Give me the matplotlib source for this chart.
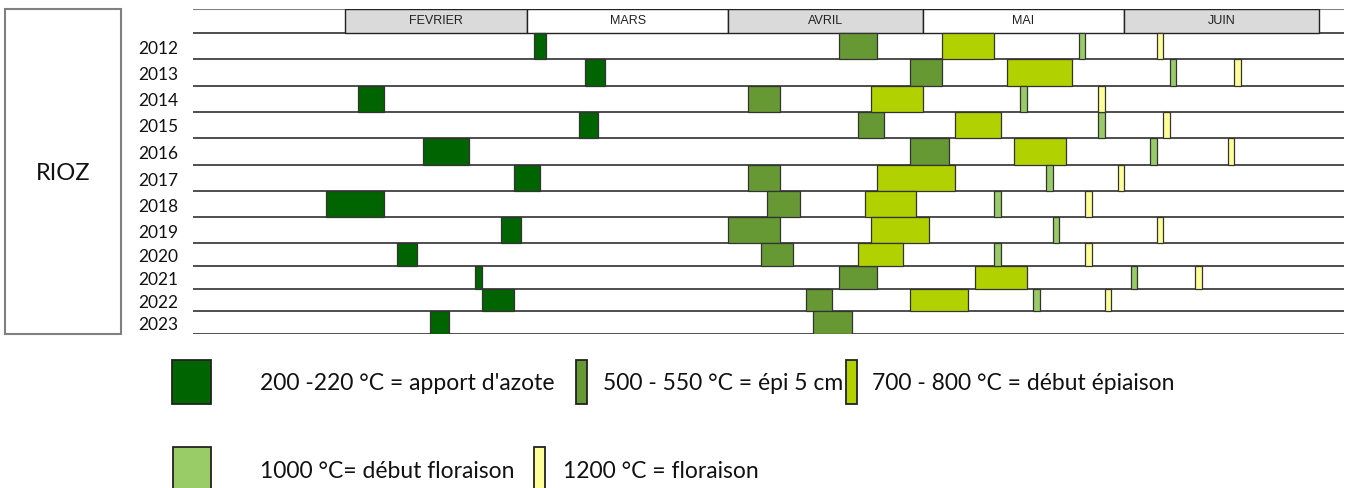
import numpy as np
import matplotlib
matplotlib.use('Agg')
import matplotlib.pyplot as plt
from matplotlib.patches import Rectangle

plt.rcParams['font.family'] = ['Lato', 'DejaVu Sans']

# ---------- data ----------
STATION = 'RIOZ'
YEARS = [2012, 2013, 2014, 2015, 2016, 2017, 2018, 2019, 2020, 2021, 2022, 2023]
MONTHS = ['FEVRIER', 'MARS', 'AVRIL', 'MAI', 'JUIN']
MONTH_STARTS = ['02-01', '03-01', '04-01', '05-01', '06-01', '07-01']

# start date (mm-dd) and duration in days of each stage, one entry per year
azote_start = ['03-02', '03-10', '02-03', '03-09', '02-13', '02-27', '01-29', '02-25', '02-09', '02-21', '02-22', '02-14']
azote_days = [2, 3, 4, 3, 7, 4, 9, 3, 3, 1, 5, 3]
epi_start = ['04-18', '04-29', '04-04', '04-21', '04-29', '04-04', '04-07', '04-01', '04-06', '04-18', '04-13', '04-14']
epi_days = [6, 5, 5, 4, 6, 5, 5, 8, 5, 6, 4, 6]
epiaison_start = ['05-04', '05-14', '04-23', '05-06', '05-15', '04-24', '04-22', '04-23', '04-21', '05-09', '04-29', None]
epiaison_days = [8, 10, 8, 7, 8, 12, 8, 9, 7, 8, 9, 0]
deb_flo_start = ['05-25', '06-08', '05-16', '05-28', '06-05', '05-20', '05-12', '05-21', '05-12', '06-02', '05-18', None]
deb_flo_days = [1, 1, 1, 1, 1, 1, 1, 1, 1, 1, 1, 0]
flo_start = ['06-06', '06-18', '05-28', '06-07', '06-17', '05-31', '05-26', '06-06', '05-26', '06-12', '05-29', None]
flo_days = [1, 1, 1, 1, 1, 1, 1, 1, 1, 1, 1, 0]

LABELS = ["200 -220 °C = apport d'azote", "500 - 550 °C = épi 5 cm", "700 - 800 °C = début épiaison",
          "1000 °C= début floraison", "1200 °C = floraison"]
COLORS = ['#006400', '#669933', '#b2d100', '#99cc66', '#ffff99']


def doy(s):
    # day of year (0 = 1st of January), on a non leap year
    return (np.datetime64('2001-' + s) - np.datetime64('2001-01-01')).astype(int)


stages = [(azote_start, azote_days), (epi_start, epi_days), (epiaison_start, epiaison_days),
          (deb_flo_start, deb_flo_days), (flo_start, flo_days)]

# ---------- layout (pixels) ----------
W, H = 1347, 488
X0, X1 = 193, 1344           # chart area in pixels
Y_TOP, Y_HEAD = 9, 33        # header band
ROW_EDGES = [33, 59, 86, 112, 138, 165, 191, 217, 243, 266, 289, 311, 334]
PX_PER_DAY = 6.49
FEB_PX = 345.3

fig = plt.figure(figsize=(W / 100, H / 100), dpi=100)

# overlay in pixel coordinates for the frame and the legend
bg = fig.add_axes([0, 0, 1, 1])
bg.set_xlim(0, W)
bg.set_ylim(H, 0)
bg.axis('off')

# chart axes: x in days of year
ax = fig.add_axes([X0 / W, 1 - ROW_EDGES[-1] / H, (X1 - X0) / W, (ROW_EDGES[-1] - Y_TOP) / H])
feb = doy('02-01')
ax.set_xlim(feb - (FEB_PX - X0) / PX_PER_DAY, feb + (X1 - FEB_PX) / PX_PER_DAY)
ax.set_ylim(ROW_EDGES[-1], Y_TOP)
ax.axis('off')

# month header
starts = [doy(m) for m in MONTH_STARTS]
for i, name in enumerate(MONTHS):
    fc = '#dadada' if i % 2 == 0 else 'white'
    ax.add_patch(Rectangle((starts[i], Y_TOP), starts[i + 1] - starts[i], Y_HEAD - Y_TOP,
                           facecolor=fc, edgecolor='#222222', lw=1.0, zorder=2))
    ax.text((starts[i] + starts[i + 1]) / 2, (Y_TOP + Y_HEAD) / 2 + 0.5, name, ha='center', va='center',
            fontsize=9, family='Liberation Sans', color='#222222', zorder=3)
ax.hlines([Y_TOP], *ax.get_xlim(), color='#808080', lw=1.5, zorder=1)

# row lines
ax.hlines(ROW_EDGES, *ax.get_xlim(), color='#404040', lw=1.3, zorder=1)

# stage bars
for (st, du), col in zip(stages, COLORS):
    for r, (s, d) in enumerate(zip(st, du)):
        if s is None:
            continue
        top, bot = ROW_EDGES[r], ROW_EDGES[r + 1]
        ax.barh(top, d, left=doy(s), height=bot - top, align='edge',
                color=col, edgecolor='#333333', lw=0.9, zorder=4)

# year labels
for r, yr in enumerate(YEARS):
    bg.text(178, (ROW_EDGES[r] + ROW_EDGES[r + 1]) / 2 + 2.5, str(yr), ha='right', va='center',
            fontsize=12.5, color='#111111')

# station box
bg.add_patch(Rectangle((5, Y_TOP), 116, ROW_EDGES[-1] - Y_TOP, facecolor='white',
                       edgecolor='#808080', lw=1.5))
bg.text(63, 173, STATION, ha='center', va='center', fontsize=17, color='#111111')

# legend
leg = [(172, 39, 360, 260, 0), (575.7, 11, 360, 603, 1), (846, 11, 360, 872, 2),
       (172.7, 38.3, 447, 260, 3), (534.3, 10.7, 447, 563, 4)]
for x, w, y, tx, k in leg:
    bg.add_patch(Rectangle((x, y), w, 44, facecolor=COLORS[k], edgecolor='#222222', lw=1.3))
    bg.text(tx, y + 24, LABELS[k], ha='left', va='center', fontsize=16.5, color='#111111')

fig.savefig('out.png', dpi=100)
